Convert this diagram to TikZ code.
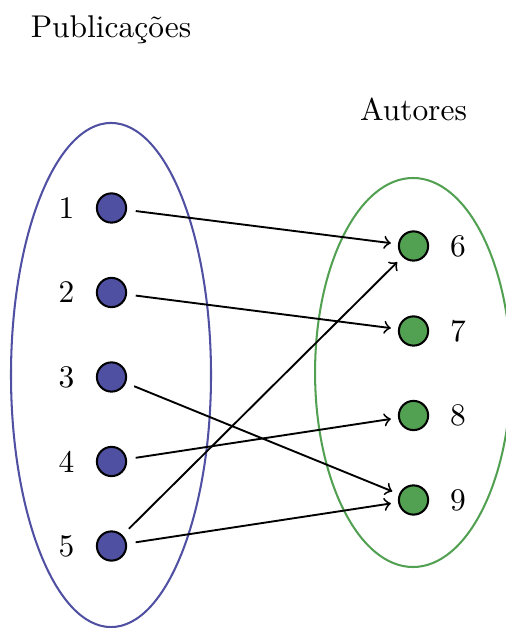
\documentclass[tikz,border=0pt]{standalone}
\usetikzlibrary{shapes.geometric}
\definecolor{pubblue}{RGB}{80,80,163}
\definecolor{autgreen}{RGB}{82,160,82}
\tikzset{
  pubdot/.style={circle, draw=black, fill=pubblue, line width=0.65pt, minimum size=9.3pt, inner sep=0pt},
  autdot/.style={circle, draw=black, fill=autgreen, line width=0.65pt, minimum size=9.3pt, inner sep=0pt},
  setlabel/.style={anchor=base},
  numlabel/.style={inner sep=0pt},
  link/.style={->, line width=0.6pt, shorten <=2.8pt, shorten >=2.3pt},
}
\begin{document}
\begin{tikzpicture}[x=0.318pt, y=-0.318pt]
  \useasboundingbox (0,0) rectangle (506,628);
  \clip (0,0) rectangle (506,628);

  % the two sets
  \node[ellipse, draw=pubblue, line width=0.65pt, inner sep=0pt,
        minimum width=63.6pt, minimum height=160.3pt] (pubset) at (111,375) {};
  \node[ellipse, draw=autgreen, line width=0.65pt, inner sep=0pt,
        minimum width=62.3pt, minimum height=123.7pt] (autset) at (413,372.5) {};

  \node[setlabel] (pubtitle) at (111,38) {Publicações};
  \node[setlabel] (auttitle) at (413.5,121) {Autores};

  % publications
  \node[pubdot] (p1) at (111.5,208) {};
  \node[pubdot] (p2) at (111.5,292.5) {};
  \node[pubdot] (p3) at (111.5,377) {};
  \node[pubdot] (p4) at (111.5,461.5) {};
  \node[pubdot] (p5) at (111.5,546) {};
  \node[numlabel] (l1) at (66.5,208) {1};
  \node[numlabel] (l2) at (66.5,292.5) {2};
  \node[numlabel] (l3) at (66.5,377) {3};
  \node[numlabel] (l4) at (66.5,461.5) {4};
  \node[numlabel] (l5) at (66.5,546) {5};

  % authors
  \node[autdot] (a6) at (413.5,246) {};
  \node[autdot] (a7) at (413.5,331) {};
  \node[autdot] (a8) at (413.5,415.5) {};
  \node[autdot] (a9) at (413.5,500) {};
  \node[numlabel] (l6) at (458,246) {6};
  \node[numlabel] (l7) at (458,331) {7};
  \node[numlabel] (l8) at (458,415.5) {8};
  \node[numlabel] (l9) at (458,500) {9};

  % authorship links
  \draw[link] (p1) -- (a6);
  \draw[link] (p2) -- (a7);
  \draw[link] (p3) -- (a9);
  \draw[link] (p4) -- (a8);
  \draw[link] (p5) -- (a6);
  \draw[link] (p5) -- (a9);
\end{tikzpicture}
\end{document}
